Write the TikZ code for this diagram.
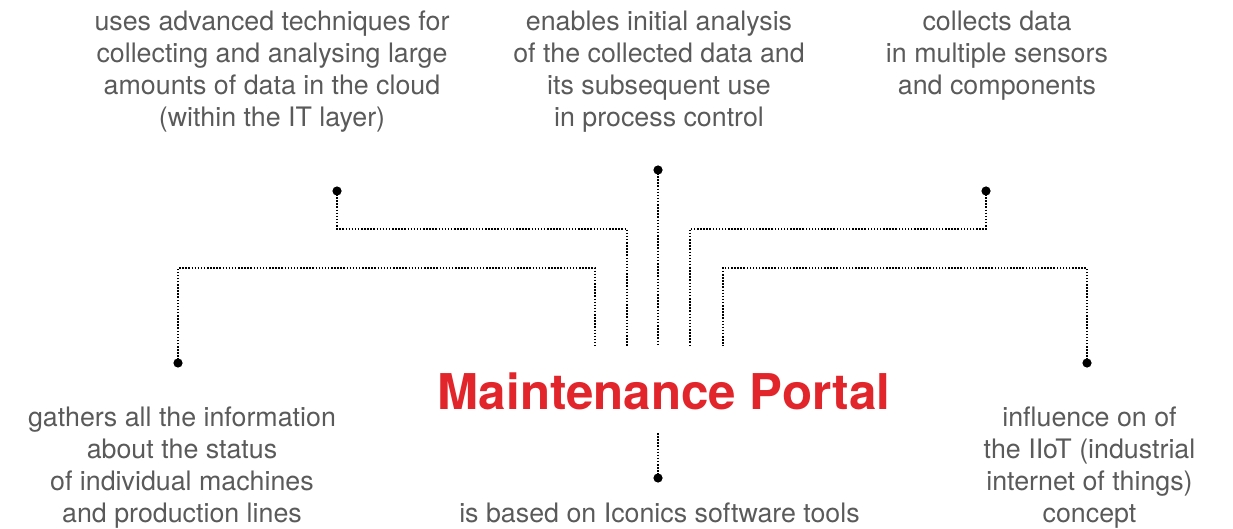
\documentclass[tikz,border=0pt]{standalone}
\usepackage{fontspec}
\setmainfont{TeX Gyre Heros}
\definecolor{txtgray}{HTML}{5A5A5A}
\definecolor{portalred}{HTML}{E2252B}
\tikzset{
  desc/.style={anchor=base, inner sep=0pt, text=txtgray, font=\fontsize{26.8}{32}\selectfont},
  title/.style={anchor=base, inner sep=0pt, text=portalred, font=\fontsize{49.3}{56}\selectfont\bfseries},
  dotline/.style={line width=1.6pt, dash pattern=on 1.5pt off 1.6pt, black},
  pin/.style={fill=black}
}
\newcommand{\lines}[1]{\begin{tabular}[t]{@{}c@{}}#1\end{tabular}}
\begin{document}
\begin{tikzpicture}[x=1pt,y=-1pt]
\useasboundingbox (0,0) rectangle (1233,529);
% text blocks
\node[desc] (tTL) at (272,30.5) {\lines{uses advanced techniques for\\collecting and analysing large\\amounts of data in the cloud\\(within the IT layer)}};
\node[desc] (tTC) at (659,30.5) {\lines{enables initial analysis\\of the collected data and\\its subsequent use\\in process control}};
\node[desc] (tTR) at (997,30.5) {\lines{collects data\\in multiple sensors\\and components}};
\node[desc] (tBL) at (182,426) {\lines{gathers all the information\\about the status\\of individual machines\\and production lines}};
\node[desc] (tBR) at (1089.5,426) {\lines{influence on of\\the IIoT (industrial\\internet of things)\\concept}};
\node[desc] (tBC) at (659.5,522) {is based on Iconics software tools};
\node[title] (portal) at (664,409) {Maintenance Portal};
% dots and end points
\coordinate (dTL) at (337,191);
\coordinate (kTL) at (627,229);
\coordinate (eTL) at (627,346);
\coordinate (dOL) at (178,363);
\coordinate (kOL) at (595,268);
\coordinate (eOL) at (595,346);
\coordinate (dC) at (658,170);
\coordinate (eC) at (658,346);
\coordinate (dTR) at (986,191);
\coordinate (kTR) at (690,229);
\coordinate (eTR) at (690,346);
\coordinate (dOR) at (1087,363);
\coordinate (kOR) at (723,268);
\coordinate (eOR) at (723,346);
\coordinate (bTop) at (658,433);
\coordinate (dB) at (658,478);
% connectors
\draw[dotline] (dTL) |- (kTL) -- (eTL);
\draw[dotline] (dOL) |- (kOL) -- (eOL);
\draw[dotline] (dC) -- (eC);
\draw[dotline] (dTR) |- (kTR) -- (eTR);
\draw[dotline] (dOR) |- (kOR) -- (eOR);
\draw[dotline] (bTop) -- (dB);
% pins
\foreach \p in {dTL,dOL,dC,dTR,dOR,dB} \fill[pin] (\p) circle (4.6);
\end{tikzpicture}
\end{document}
